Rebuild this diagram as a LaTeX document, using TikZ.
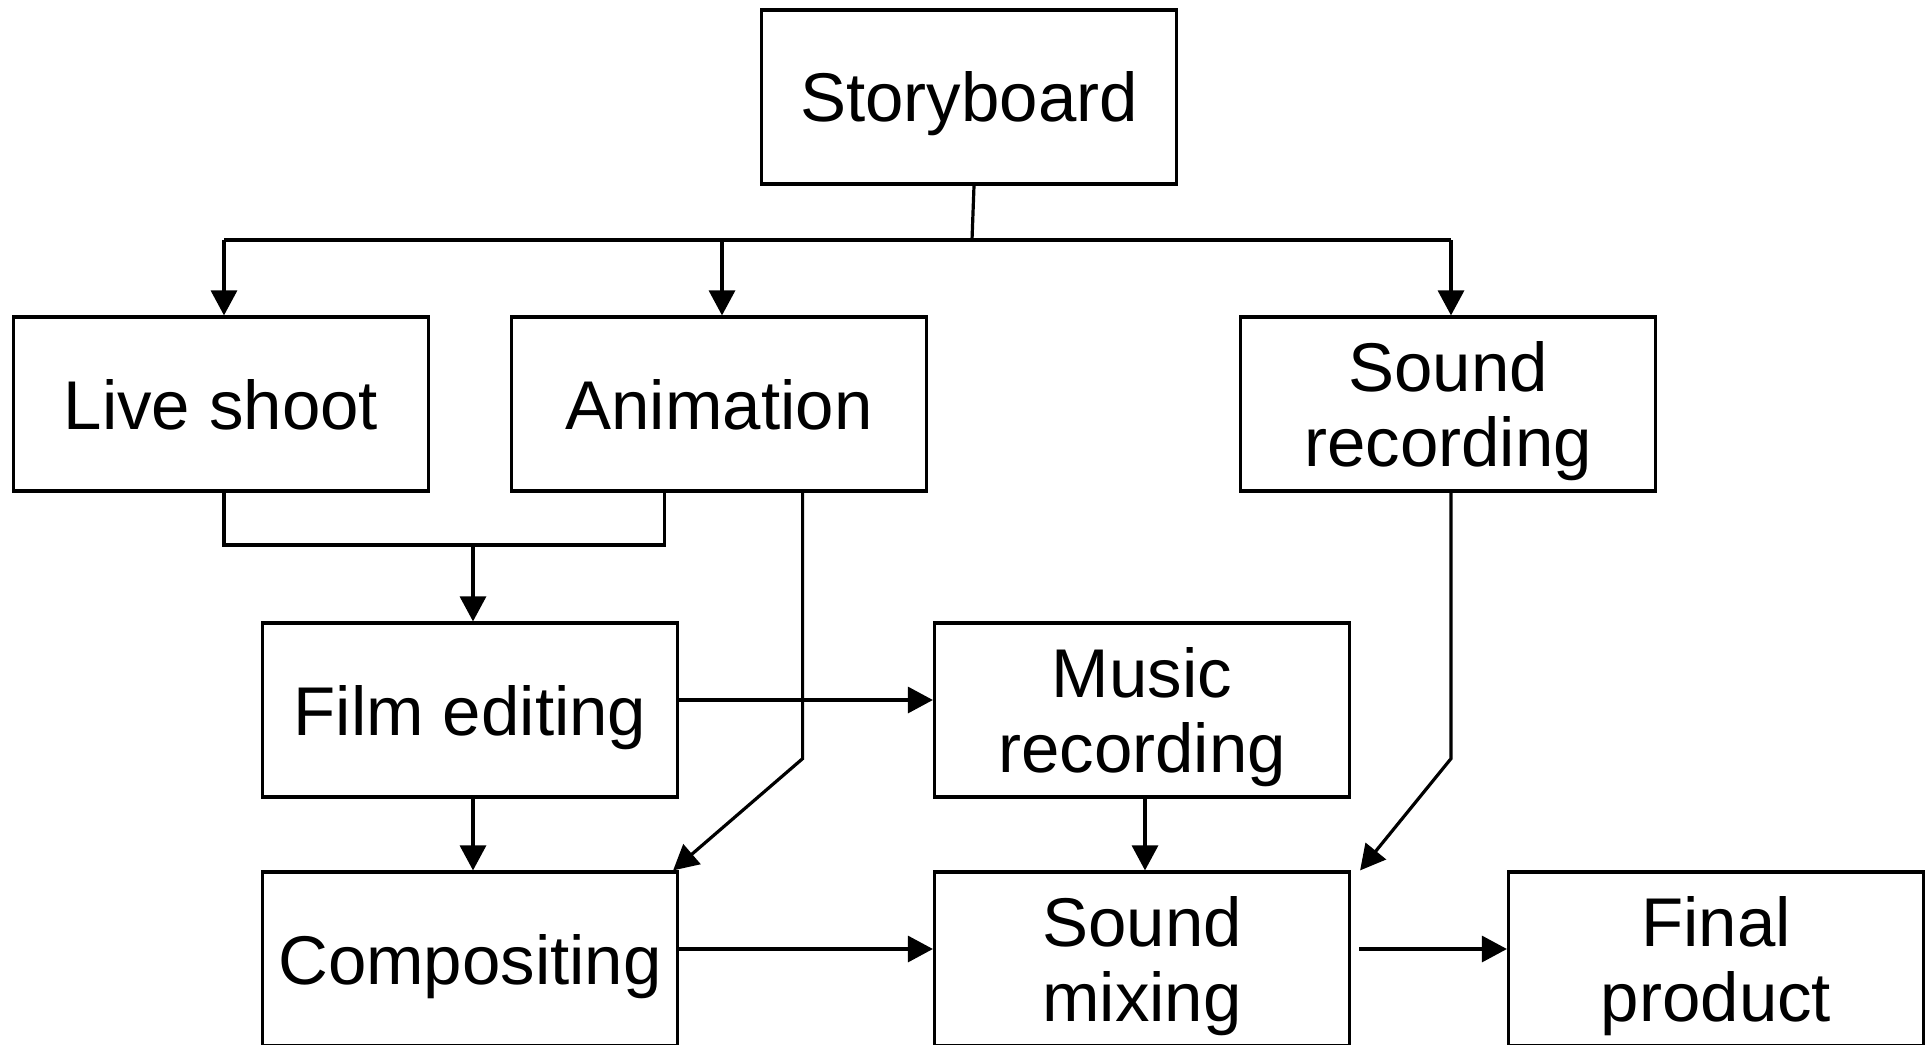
\documentclass[tikz,border=0pt]{standalone}
\usepackage{fontspec}
\setmainfont{Liberation Sans}
\usetikzlibrary{arrows.meta, calc}

\begin{document}
\begin{tikzpicture}[x=0.5pt, y=-0.5pt,
  box/.style={draw, line width=1.6pt, minimum width=207.5pt, minimum height=87pt, inner sep=0pt,
    align=center, text depth=0pt, font=\fontsize{34.5}{37.5}\selectfont},
  link/.style={line width=1.6pt},
  arr/.style={link, -{Triangle[length=12.5pt, width=13pt]}}]
\useasboundingbox (0,0) rectangle (1932,1044);
\clip (0,0) rectangle (1932,1044);
% boxes
\node[box] (story) at (969,97) {Storyboard};
\node[box] (live) at (221,404) {Live shoot};
\node[box] (anim) at (719,404) {Animation};
\node[box] (soundrec) at (1448,404) {Sound\\recording};
\node[box] (film) at (470,710) {Film editing};
\node[box] (music) at (1142,710) {Music\\recording};
\node[box] (comp) at (470,959) {Compositing};
\node[box] (mix) at (1142,959) {Sound\\mixing};
\node[box] (final) at (1716,959) {Final\\product};
% storyboard fans out
\coordinate (trunk) at (0,240);
\draw[link] ([xshift=2.5pt]story.south) -- ([xshift=1.5pt]story.south |- trunk);
\draw[link] ([xshift=1.5pt]live.north |- trunk) -- ([xshift=1.5pt]soundrec.north |- trunk);
\draw[arr] ([xshift=1.5pt]live.north |- trunk) -- ([xshift=1.5pt]live.north);
\draw[arr] ([xshift=1.5pt]anim.north |- trunk) -- ([xshift=1.5pt]anim.north);
\draw[arr] ([xshift=1.5pt]soundrec.north |- trunk) -- ([xshift=1.5pt]soundrec.north);
% live shoot and animation join into editing
\coordinate (join) at (0,545);
\coordinate (animL) at ($(anim.south west)!0.37!(anim.south east)$);
\draw[link] ([xshift=1.5pt]live.south) -- ([xshift=1.5pt]live.south |- join) -- (animL |- join) -- (animL);
\draw[arr] ([xshift=1.5pt]film.north |- join) -- ([xshift=1.5pt]film.north);
% animation straight to compositing
\coordinate (animR) at ($(anim.south west)!0.7!(anim.south east)$);
\draw[arr] (animR) -- ++(0,266) -- ([xshift=-3pt]comp.north east);
% sound recording down to the mix
\coordinate (soundB) at ([xshift=1.5pt]soundrec.south);
\draw[arr] (soundB) -- ++(0,266) -- ([xshift=4.5pt]mix.north east);
% the rest of the chain
\draw[arr] ([yshift=5pt]film.east) -- ([yshift=5pt]music.west);
\draw[arr] ([xshift=1.5pt]film.south) -- ([xshift=1.5pt]comp.north);
\draw[arr] ([xshift=1.5pt]music.south) -- ([xshift=1.5pt]mix.north);
\draw[arr] ([yshift=5pt]comp.east) -- ([yshift=5pt]mix.west);
\draw[arr] ([xshift=4pt, yshift=5pt]mix.east) -- ([yshift=5pt]final.west);
\end{tikzpicture}
\end{document}
